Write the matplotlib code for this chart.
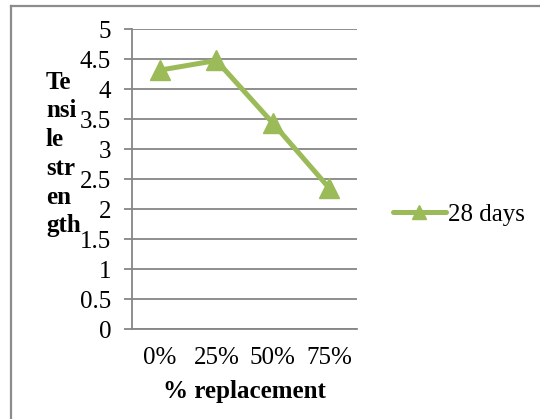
"""Tensile strength vs % replacement (28 days)."""

import matplotlib

matplotlib.use("Agg")
import matplotlib.pyplot as plt
from matplotlib.lines import Line2D

categories = ["0%", "25%", "50%", "75%"]
strength_28d = [4.32, 4.48, 3.44, 2.36]
y_ticks = [0, 0.5, 1, 1.5, 2, 2.5, 3, 3.5, 4, 4.5, 5]
y_tick_labels = ["0", "0.5", "1", "1.5", "2", "2.5", "3", "3.5", "4", "4.5", "5"]

W, H = 540, 419
GREEN = "#9BBB59"
GRID = "#868686"
FS = 18

plt.rcParams["font.family"] = ["Liberation Serif", "DejaVu Serif"]

fig = plt.figure(figsize=(W / 100, H / 100), dpi=100)

# outer chart frame (only top and left edges are visible)
fig.add_artist(Line2D([11 / W, 1.0], [1 - 6 / H, 1 - 6 / H],
                      transform=fig.transFigure, color="#8c8c8c", lw=1.6))
fig.add_artist(Line2D([11 / W, 11 / W], [0.0, 1 - 6 / H],
                      transform=fig.transFigure, color="#8c8c8c", lw=1.6))

ax = fig.add_axes([132 / W, (H - 329.3) / H, 225 / W, 300 / H])
x = list(range(len(categories)))
ax.plot(x, strength_28d, color=GREEN, lw=3.6, marker="^", markersize=14,
        label="28 days", solid_capstyle="round")

ax.set_xlim(-0.5, len(categories) - 0.5)
ax.set_ylim(0, 5)
ax.set_yticks(y_ticks)
ax.set_yticklabels(y_tick_labels)
ax.set_xticks(x)
ax.set_xticklabels(categories)
ax.grid(True, axis="y", color=GRID, lw=1.3)
ax.set_axisbelow(True)
for side in ("top", "right"):
    ax.spines[side].set_visible(False)
for side in ("left", "bottom"):
    ax.spines[side].set_color(GRID)
    ax.spines[side].set_linewidth(1.3)
ax.tick_params(axis="y", length=6, width=1.3, color=GRID, pad=9, labelsize=FS)
ax.tick_params(axis="x", length=0, pad=13, labelsize=FS)
ax.set_xlabel("% replacement", fontsize=FS, fontweight="bold", labelpad=8)

fig.text(46 / W, (H - 154) / H, "Te\nnsi\nle\nstr\nen\ngth", fontsize=FS,
         fontweight="bold", ha="left", va="center", linespacing=1.32)

ax.legend(loc="center left", bbox_to_anchor=(393 / W, (H - 215) / H),
          bbox_transform=fig.transFigure, frameon=False, fontsize=FS,
          borderpad=0, borderaxespad=0, handlelength=2.1, handletextpad=0.12,
          markerscale=0.75)

fig.savefig("out.png", dpi=100)
